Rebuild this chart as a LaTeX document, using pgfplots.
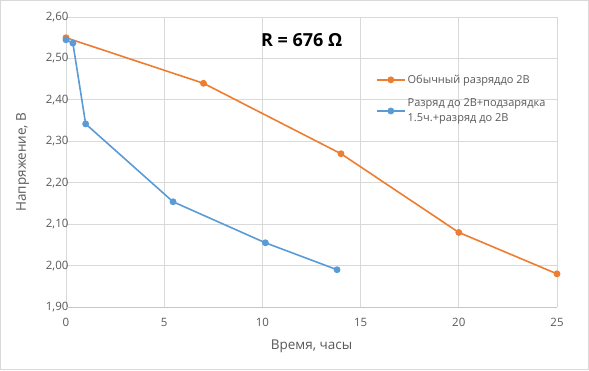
\documentclass[border=0pt]{standalone}
\usepackage{fontspec}
\setmainfont{Open Sans}
\usepackage{pgfplots}
\pgfplotsset{compat=1.18}
\definecolor{xorange}{HTML}{ED7D31}
\definecolor{xblue}{HTML}{5B9BD5}
\definecolor{xgrid}{HTML}{D9D9D9}
\definecolor{xtext}{HTML}{595959}
\begin{document}
\begin{tikzpicture}
\useasboundingbox (-66pt,-63pt) rectangle (523pt,307pt);
\draw[xgrid, line width=1pt] (-65.5pt,-62.5pt) rectangle (522.5pt,306.5pt);
\begin{axis}[
  scale only axis, width=491pt, height=290pt,
  xmin=0, xmax=25, ymin=1.9, ymax=2.6,
  xtick={0,5,10,15,20,25},
  ytick={1.9,2.0,2.1,2.2,2.3,2.4,2.5,2.6},
  grid=major, grid style={xgrid, line width=0.8pt},
  axis line style={draw=none},
  major tick length=0pt,
  tick label style={font=\fontsize{11.5}{13}\selectfont, text=xtext},
  /pgf/number format/assume math mode=true,
  yticklabel style={xshift=6pt, /pgf/number format/.cd, fixed, fixed zerofill, precision=2, use comma},
  xticklabel style={yshift=-8pt, /pgf/number format/.cd, fixed},
  xlabel={Время, часы}, ylabel={Напряжение, В},
  label style={font=\fontsize{13.5}{15}\selectfont, text=xtext},
  xlabel style={yshift=-6pt},
  ylabel style={yshift=10pt},
  legend style={draw=none, fill=none, at={(rel axis cs:0.625,0.815)}, anchor=north west,
    font=\fontsize{11}{15}\selectfont, text=xtext, nodes={align=left}, row sep=10pt},
  legend cell align=left,
  legend image code/.code={\draw[mark repeat=2,mark phase=2] plot coordinates {(0pt,0pt) (14pt,0pt) (28pt,0pt)};},
  every axis plot/.append style={line width=1.6pt, mark=*, mark size=2.6pt},
]
\addplot[xorange, mark options={fill=xorange}] coordinates {
(0,2.55) (7,2.44) (14,2.27) (20,2.08) (25,1.98)};
\addlegendentry{Обычный  разряддо 2В}
\addplot[xblue, mark options={fill=xblue}] coordinates {
(0,2.545) (0.35,2.537) (1,2.342) (5.45,2.154) (10.15,2.055) (13.8,1.99)};
\addlegendentry{Разряд до 2В+подзарядка\\1.5ч.+разряд до 2В}
\node[font=\bfseries\fontsize{18}{20}\selectfont, text=black] at (axis cs:12,2.545) {R = 676 Ω};
\draw[xgrid!80!gray, line width=0.8pt] (axis cs:0,1.9) -- (axis cs:25,1.9);
\end{axis}
\end{tikzpicture}
\end{document}
